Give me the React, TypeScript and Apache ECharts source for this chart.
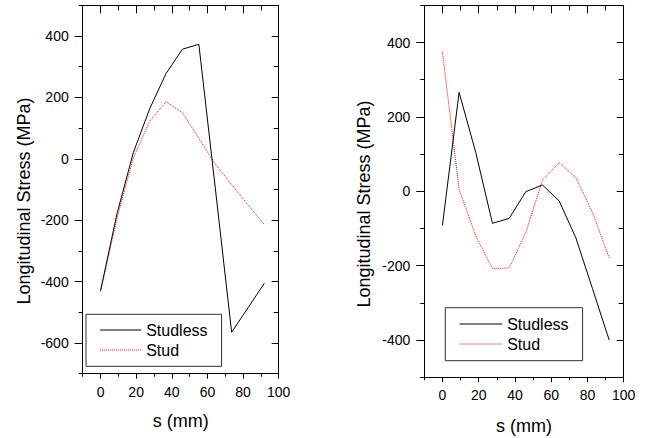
import React, { useEffect, useRef } from "react";
import * as echarts from "echarts";

// s positions (mm)
const sValues = [0, 9.2, 18.4, 27.6, 36.8, 46, 55.2, 64.4, 73.6, 82.8, 92];

// Left panel
const leftStudless = [-430, -180, 20, 163, 278, 357, 373, -95, -565, -485, -405];
const leftStud = [-432, -195, 3, 123, 186, 150, 66, -17, -84, -150, -215];

// Right panel
const rightStudless = [-92, 266, 104, -86, -73, -1, 17, -26, -125, -262, -400];
const rightStud = [375, 5, -120, -208, -206, -111, 30, 77, 37, -57, -179];

// Tick labels
const xTickLabels = [0, 20, 40, 60, 80, 100];
const leftYTickLabels = [-600, -400, -200, 0, 200, 400];
const rightYTickLabels = [-400, -200, 0, 200, 400];

const seriesNames = ["Studless", "Stud"];
const yTitle = "Longitudinal Stress (MPa)";
const xTitle = "s (mm)";

const FONT = "'Liberation Sans', Arial, Helvetica, sans-serif";

function buildAxes(
  kind: "x" | "y",
  gridIndex: number,
  min: number,
  max: number,
  step: number,
  majors: number[],
  lens: { major: number; minor: number; mMajor: number; mMinor: number },
  labelMargin: number
) {
  const base = {
    type: "value",
    gridIndex,
    min,
    max,
    interval: step,
    splitLine: { show: false },
  };
  const mainPos = kind === "x" ? "bottom" : "left";
  const mirrorPos = kind === "x" ? "top" : "right";
  const line = { show: true, onZero: false, lineStyle: { color: "#000", width: 1 } };
  const noLine = { show: false, onZero: false };
  return [
    {
      ...base,
      position: mainPos,
      axisLine: line,
      axisTick: {
        show: true,
        customValues: majors,
        length: lens.major,
        inside: false,
        lineStyle: { color: "#000", width: 1 },
      },
      axisLabel: {
        show: true,
        customValues: majors,
        formatter: (v: number) => (majors.includes(v) ? String(v) : ""),
        margin: labelMargin,
        fontSize: 14,
        color: "#000",
        fontFamily: FONT,
      },
    },
    {
      ...base,
      position: mainPos,
      axisLine: noLine,
      axisTick: { show: true, length: lens.minor, inside: false, lineStyle: { color: "#000", width: 1 } },
      axisLabel: { show: false },
    },
    {
      ...base,
      position: mirrorPos,
      axisLine: line,
      axisTick: {
        show: true,
        customValues: majors,
        length: lens.mMajor,
        inside: true,
        lineStyle: { color: "#000", width: 1 },
      },
      axisLabel: { show: false },
    },
    {
      ...base,
      position: mirrorPos,
      axisLine: noLine,
      axisTick: { show: true, length: lens.mMinor, inside: true, lineStyle: { color: "#000", width: 1 } },
      axisLabel: { show: false },
    },
  ];
}

function pairs(values: number[]) {
  return sValues.map((s, i) => [s, values[i]]);
}

export default function App() {
  const ref = useRef<HTMLDivElement>(null);

  useEffect(() => {
    document.body.style.margin = "0";
    if (!ref.current) return;
    const chart = echarts.init(ref.current, null, { renderer: "svg" });

    const xAxes = [
      ...buildAxes("x", 0, -10, 100, 10, xTickLabels, { major: 5, minor: 3, mMajor: 8, mMinor: 5 }, 11),
      ...buildAxes("x", 1, -10, 100, 10, xTickLabels, { major: 5, minor: 3, mMajor: 8, mMinor: 5 }, 11),
    ];
    const yAxes = [
      ...buildAxes("y", 0, -700, 500, 100, leftYTickLabels, { major: 8, minor: 4, mMajor: 7, mMinor: 5 }, 14),
      ...buildAxes("y", 1, -500, 500, 100, rightYTickLabels, { major: 8, minor: 4, mMajor: 7, mMinor: 5 }, 14),
    ];

    const mk = (name: string, data: number[], idx: number, red: boolean) => ({
      name,
      type: "line",
      xAxisIndex: idx,
      yAxisIndex: idx,
      data: pairs(data),
      symbol: "none",
      lineStyle: red
        ? { color: "#ff0000", width: 1, type: [1, 1] }
        : { color: "#000000", width: 1, type: "solid" },
      itemStyle: { color: red ? "#ff0000" : "#000000" },
      z: red ? 2 : 3,
    });

    const legendBase = {
      orient: "vertical",
      data: seriesNames,
      selectedMode: false,
      itemHeight: 14,
      itemGap: 4,
      borderColor: "#333",
      borderWidth: 1,
      itemStyle: { opacity: 0 },
      lineStyle: { width: 1 },
      textStyle: { fontSize: 16, color: "#000", fontFamily: FONT },
    };

    const titleStyle = { fontSize: 18, fill: "#000", fontFamily: FONT, align: "center", verticalAlign: "middle" };

    chart.setOption({
      animation: false,
      backgroundColor: "#fff",
      grid: [
        { left: 82.7, top: 5.3, width: 196, height: 368.4 },
        { left: 424.3, top: 5.3, width: 199.4, height: 372 },
      ],
      xAxis: xAxes,
      yAxis: yAxes,
      legend: [
        { ...legendBase, left: 86, top: 314.3, itemWidth: 41, padding: [7.7, 14, 8.3, 13.7] },
        { ...legendBase, left: 445.3, top: 307.7, itemWidth: 42.7, padding: [8.3, 14, 8.7, 13.7] },
      ],
      series: [
        mk(seriesNames[0], leftStudless, 0, false),
        mk(seriesNames[1], leftStud, 0, true),
        mk(seriesNames[0], rightStudless, 4, false),
        mk(seriesNames[1], rightStud, 4, true),
      ],
      graphic: [
        { type: "text", x: 23.5, y: 201, rotation: Math.PI / 2, style: { ...titleStyle, text: yTitle } },
        { type: "text", x: 364, y: 204, rotation: Math.PI / 2, style: { ...titleStyle, text: yTitle } },
        { type: "text", x: 180.7, y: 421, style: { ...titleStyle, text: xTitle } },
        { type: "text", x: 524, y: 426, style: { ...titleStyle, text: xTitle } },
      ],
    });

    return () => chart.dispose();
  }, []);

  return <div ref={ref} style={{ width: 646, height: 438 }} />;
}
